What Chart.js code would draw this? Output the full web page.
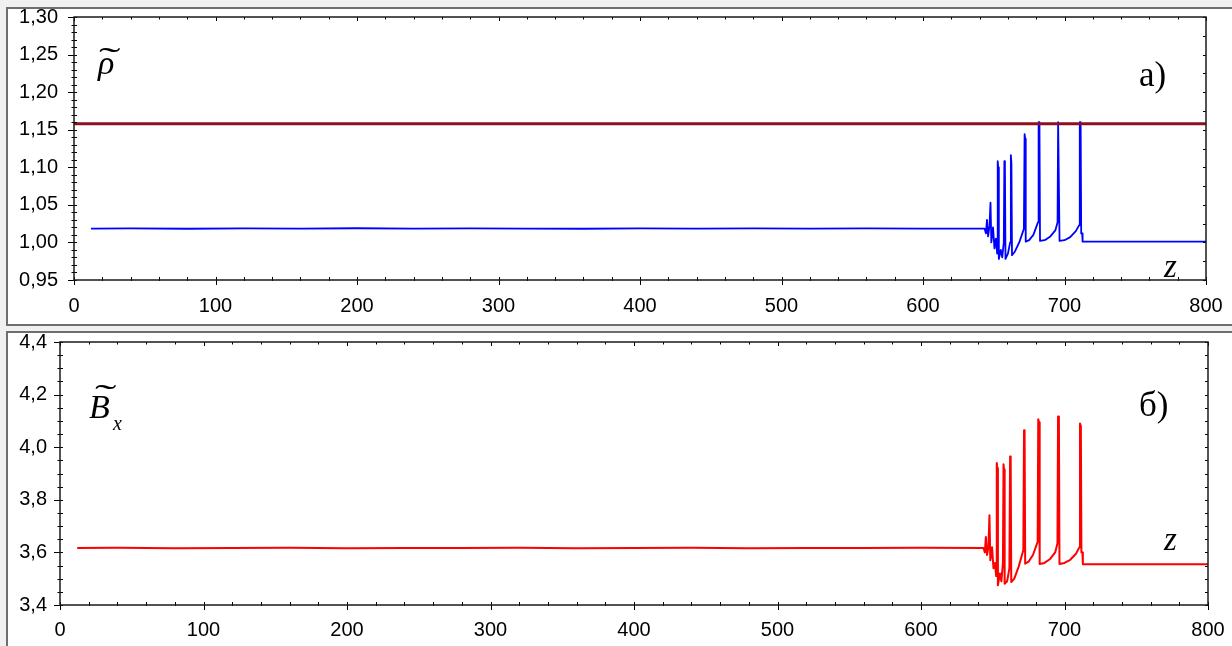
<!DOCTYPE html>
<html>
<head>
<meta charset="utf-8">
<script src="https://cdn.jsdelivr.net/npm/chart.js@4.4.0/dist/chart.umd.min.js"></script>
<style>
  html, body { margin: 0; padding: 0; }
  body { width: 1232px; height: 646px; background: #f0f0f0; position: relative; overflow: hidden; }
  .panel { position: absolute; left: 6px; width: 1240px; background: #fff; border: 2px solid #6e6e6e; box-sizing: border-box; }
  #panelTop { top: 7px; height: 319px; }
  #panelBottom { top: 331px; height: 330px; }
  canvas { position: absolute; left: 0; }
  #rhoChart { top: 0; }
  #bxChart { top: 325px; }
  .lbl { position: absolute; font-family: "Liberation Serif", "Times New Roman", serif; color: #000; line-height: 1; white-space: nowrap; }
  .it { font-style: italic; }
  .tilde { transform: scaleX(1.9); transform-origin: left top; }
</style>
</head>
<body>
<div class="panel" id="panelTop"></div>
<div class="panel" id="panelBottom"></div>
<canvas id="rhoChart" width="1232" height="325"></canvas>
<canvas id="bxChart" width="1232" height="321"></canvas>

<span class="lbl tilde" style="left:99px; top:43px; font-size:34px;">˜</span>
<span class="lbl it" style="left:98px; top:46px; font-size:34px;">ρ</span>
<span class="lbl" style="left:1139px; top:57px; font-size:35px;">a)</span>
<span class="lbl it" style="left:1164px; top:250px; font-size:33px;">z</span>

<span class="lbl tilde" style="left:95px; top:380px; font-size:34px;">˜</span>
<span class="lbl it" style="left:89px; top:390px; font-size:34px;">B</span>
<span class="lbl it" style="left:113px; top:413px; font-size:20px;">x</span>
<span class="lbl" style="left:1139px; top:387px; font-size:35px;">б)</span>
<span class="lbl it" style="left:1164px; top:523px; font-size:33px;">z</span>

<script>
// Data
const zValues = [12, 40, 80, 120, 160, 200, 240, 280, 320, 360, 400, 440, 480, 520, 560, 600, 643.5,
    644.5, 645.2, 646.0, 647.0, 647.7, 648.3, 649.5, 650.5, 651.5, 652.4,
    652.8, 653.2, 653.6, 655.0, 656.0, 657.1, 657.5, 657.9, 658.3, 660.0,
    661.6, 662.1, 662.5, 662.9, 665.0, 668.0, 671.3, 671.8, 672.2, 672.6,
    675.0, 678.0, 681.3, 681.7, 682.3, 682.7, 686.0, 690.0, 693.5, 695.1,
    695.5, 696.1, 696.5, 700.0, 704.0, 708.0, 710.4, 710.8, 711.4, 711.8,
    712.5, 712.8, 800];

const rhoValues = [1.0185, 1.0188, 1.0182, 1.0186, 1.0184, 1.0189, 1.0183, 1.0187, 1.0185, 1.0182, 1.0188, 1.0184, 1.0186, 1.0183, 1.0187, 1.0185, 1.0185,
    1.012, 1.030, 1.008, 1.022, 1.053, 1.000, 1.020, 0.992, 1.005, 0.985,
    1.108, 1.100, 0.978, 0.990, 0.980, 1.000, 1.108, 1.100, 0.978, 0.985,
    1.000, 1.116, 1.105, 0.983, 0.988, 1.000, 1.018, 1.144, 1.138, 1.001,
    1.003, 1.010, 1.027, 1.160, 1.160, 1.002, 1.003, 1.008, 1.016, 1.027,
    1.160, 1.160, 1.002, 1.003, 1.007, 1.015, 1.023, 1.160, 1.160, 1.012,
    1.012, 1.001, 1.001];

const bxValues = [3.617, 3.618, 3.616, 3.617, 3.618, 3.616, 3.617, 3.617, 3.618, 3.616, 3.617, 3.618, 3.616, 3.617, 3.617, 3.618, 3.617,
    3.600, 3.659, 3.590, 3.620, 3.741, 3.570, 3.620, 3.540, 3.560, 3.510,
    3.940, 3.920, 3.475, 3.520, 3.490, 3.560, 3.935, 3.915, 3.481, 3.490,
    3.540, 3.965, 3.945, 3.487, 3.500, 3.545, 3.608, 4.064, 4.050, 3.557,
    3.565, 3.590, 3.640, 4.106, 4.095, 3.556, 3.560, 3.575, 3.600, 3.635,
    4.117, 4.105, 3.556, 3.560, 3.572, 3.595, 3.620, 4.090, 4.080, 3.600,
    3.600, 3.555, 3.555];

const rhoLimit = 1.158;
const zRange = [0, 800];

// Tick labels
const zTicks = [0, 100, 200, 300, 400, 500, 600, 700, 800];
const rhoTicks = [0.95, 1.00, 1.05, 1.10, 1.15, 1.20, 1.25, 1.30];
const bxTicks = [3.4, 3.6, 3.8, 4.0, 4.2, 4.4];

const TICK_FONT = { family: '"Liberation Sans", Arial, sans-serif', size: 20 };

// Box frame with ticks on all four sides
const axisFrame = {
    id: 'axisFrame',
    afterDatasetsDraw(chart, args, o) {
        const { ctx, chartArea: a, scales: { x, y } } = chart;
        const near = (v, step) => Math.abs(v / step - Math.round(v / step)) < 1e-6;
        ctx.save();
        ctx.strokeStyle = '#000';
        ctx.lineWidth = 1;
        ctx.beginPath();

        // bottom + top ticks
        let n = Math.round((x.max - x.min) / o.xMinor);
        for (let i = 0; i <= n; i++) {
            const v = x.min + i * o.xMinor;
            const px = Math.round(x.getPixelForValue(v)) + 0.5;
            const major = near(v, o.xMajor);
            ctx.moveTo(px, a.bottom - 3);
            ctx.lineTo(px, a.bottom + (major ? 5 : 1));
            ctx.moveTo(px, a.top);
            ctx.lineTo(px, a.top + (major ? 4 : 2.5));
        }

        // left ticks
        n = Math.round((y.max - y.min) / o.yMinorLeft);
        for (let i = 0; i <= n; i++) {
            const v = y.min + i * o.yMinorLeft;
            const py = Math.round(y.getPixelForValue(v)) + 0.5;
            const major = near(v - y.min, o.yMajor);
            ctx.moveTo(a.left - (major ? 6 : 2.5), py);
            ctx.lineTo(a.left + 3, py);
        }

        // right ticks
        n = Math.round((y.max - y.min) / o.yMinorRight);
        for (let i = 0; i <= n; i++) {
            const py = Math.round(y.getPixelForValue(y.min + i * o.yMinorRight)) + 0.5;
            ctx.moveTo(a.right - 3, py);
            ctx.lineTo(a.right, py);
        }
        ctx.stroke();

        ctx.lineWidth = 1.5;
        ctx.strokeStyle = '#1a1a1a';
        ctx.strokeRect(a.left, a.top, a.right - a.left, a.bottom - a.top);
        ctx.restore();
    }
};

function toPoints(values) {
    return zValues.map((z, i) => ({ x: z, y: values[i] }));
}

function noScalePadding(s) {
    s.paddingTop = 0;
    s.paddingBottom = 0;
    s.paddingLeft = 0;
    s.paddingRight = 0;
}

function makeChart(id, cfg) {
    return new Chart(document.getElementById(id).getContext('2d'), {
        type: 'line',
        data: { datasets: cfg.datasets },
        options: {
            responsive: false,
            animation: false,
            events: [],
            layout: { padding: cfg.padding },
            elements: {
                point: { radius: 0 },
                line: { tension: 0, borderJoinStyle: 'round', fill: false }
            },
            plugins: {
                legend: { display: false },
                tooltip: { enabled: false },
                axisFrame: cfg.frame
            },
            scales: {
                x: {
                    type: 'linear',
                    min: zRange[0],
                    max: zRange[1],
                    afterBuildTicks: s => { s.ticks = zTicks.map(v => ({ value: v })); },
                    afterFit: s => { s.height = cfg.xHeight; noScalePadding(s); },
                    grid: { display: false, drawTicks: false },
                    border: { display: false },
                    ticks: {
                        autoSkip: false,
                        maxRotation: 0,
                        padding: cfg.xPad,
                        color: '#000',
                        font: TICK_FONT
                    }
                },
                y: {
                    type: 'linear',
                    min: cfg.yTicks[0],
                    max: cfg.yTicks[cfg.yTicks.length - 1],
                    afterBuildTicks: s => { s.ticks = cfg.yTicks.map(v => ({ value: v })); },
                    afterFit: s => { s.width = cfg.yWidth; noScalePadding(s); },
                    grid: { display: false, drawTicks: false },
                    border: { display: false },
                    ticks: {
                        padding: cfg.yPad,
                        color: '#000',
                        font: TICK_FONT,
                        callback: v => v.toFixed(cfg.digits).replace('.', ',')
                    }
                }
            }
        },
        plugins: [axisFrame]
    });
}

// a) density
makeChart('rhoChart', {
    datasets: [
        {
            data: [{ x: zRange[0], y: rhoLimit }, { x: zRange[1], y: rhoLimit }],
            borderColor: '#8b1024',
            borderWidth: 3
        },
        {
            data: toPoints(rhoValues),
            borderColor: '#0000ff',
            borderWidth: 1.8
        }
    ],
    yTicks: rhoTicks,
    digits: 2,
    padding: { top: 17, right: 26, left: 0, bottom: 0 },
    yWidth: 74,
    xHeight: 45,
    xPad: 14,
    yPad: 16,
    frame: { xMinor: 20, xMajor: 100, yMinorLeft: 0.01, yMinorRight: 0.025, yMajor: 0.05 }
});

// б) magnetic field
makeChart('bxChart', {
    datasets: [
        {
            data: toPoints(bxValues),
            borderColor: '#ff0000',
            borderWidth: 2
        }
    ],
    yTicks: bxTicks,
    digits: 1,
    padding: { top: 17, right: 24, left: 0, bottom: 0 },
    yWidth: 60,
    xHeight: 41,
    xPad: 13,
    yPad: 13,
    frame: { xMinor: 20, xMajor: 100, yMinorLeft: 0.05, yMinorRight: 0.05, yMajor: 0.2 }
});
</script>
</body>
</html>
